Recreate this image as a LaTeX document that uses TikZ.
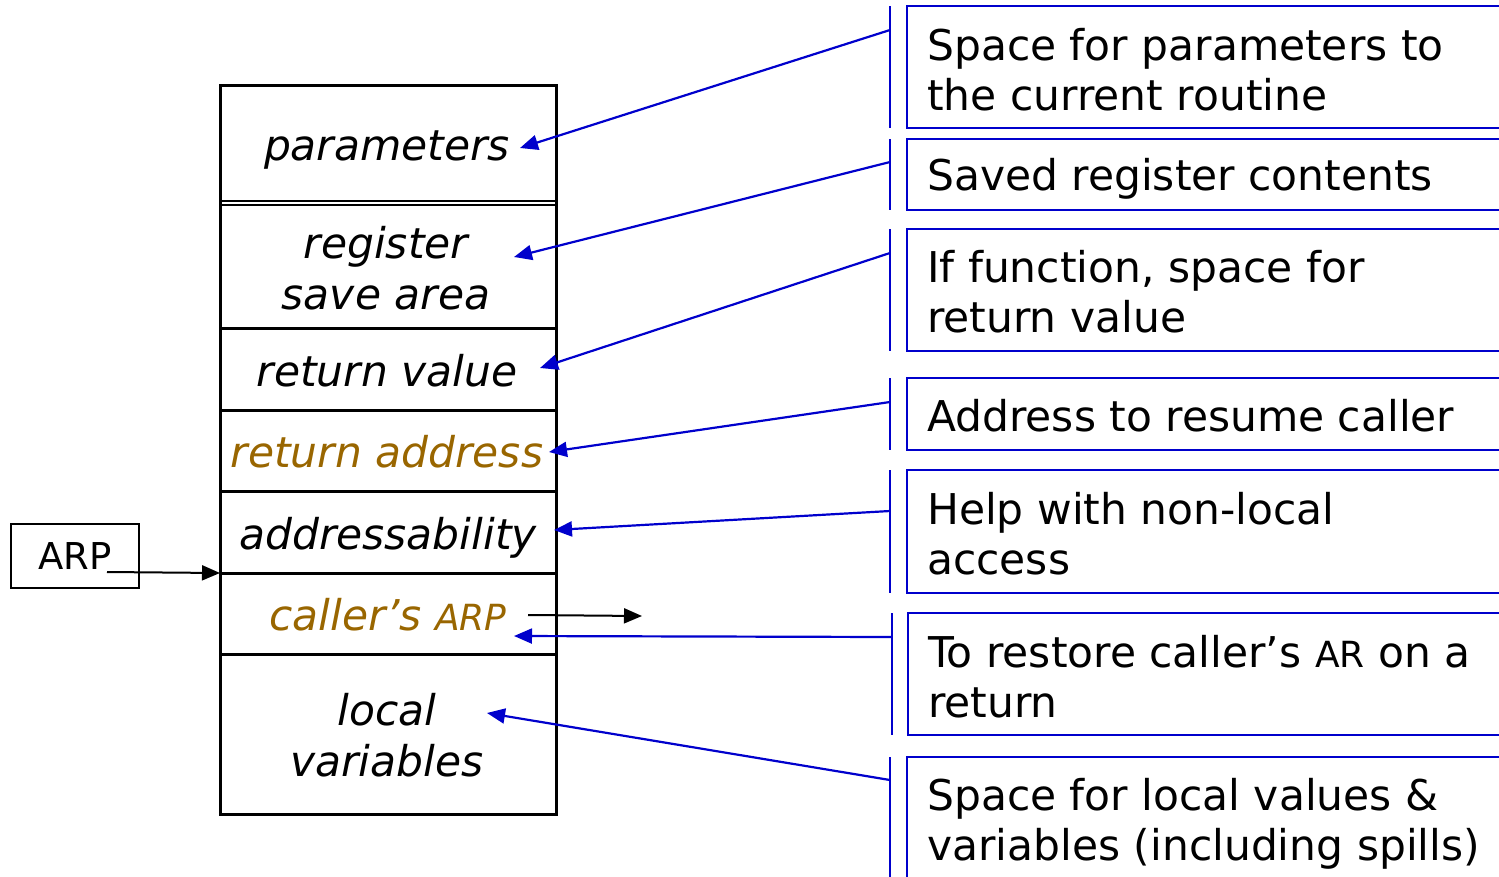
\documentclass[tikz,border=0pt]{standalone}
\usepackage{fontspec}
\setmainfont{DejaVu Sans}
\usetikzlibrary{arrows.meta}
\definecolor{lineblue}{RGB}{0,0,204}
\definecolor{ochre}{RGB}{153,102,0}
\newcommand{\smallAR}[1]{{\fontsize{36}{36}\selectfont #1}}
\begin{document}
\begin{tikzpicture}[x=1pt,y=-1pt,
  slot/.style={font=\fontsize{42.4}{51}\selectfont\itshape, inner sep=0, align=center, anchor=base},
  note/.style={font=\fontsize{42.4}{50}\selectfont, inner sep=0, align=left, anchor=base west},
  frame/.style={draw=lineblue, line width=2.8pt},
  bar/.style={draw=lineblue, line width=2.8pt},
  ptr/.style={draw=lineblue, line width=2.2pt, -{Triangle[length=18pt,width=15pt]}},
  blk/.style={draw=black, line width=2pt, -{Triangle[length=18pt,width=15pt]}},
  cell/.style={draw=black, line width=3pt}]
\useasboundingbox (0,0) rectangle (1499,876);
\clip (0,0) rectangle (1499,876);

% activation record stack
\draw[cell] (220,85) rectangle (556,814);
\draw[black, line width=1.8pt] (220,201) -- (556,201) (220,205) -- (556,205);
\foreach \yy in {328,410,491,573,654}
  \draw[cell] (220,\yy) -- (556,\yy);

% (multi-line nodes are placed by the baseline of their last line)
\node[slot] (par) at (387,160) {parameters};
\node[slot] (reg) at (386,309) {register\\save area};
\node[slot] (ret) at (387,386) {return value};
\node[slot, text=ochre] (radr) at (387,467) {return address};
\node[slot] (addr) at (388,549) {addressability};
\node[slot, text=ochre] (carp) at (388,630) {caller’s \smallAR{ARP}};
\node[slot] (loc) at (387,776) {local\\variables};

% ARP register
\node[draw=black, line width=2pt, minimum width=128pt, minimum height=64pt, inner sep=0,
      font=\fontsize{37}{37}\selectfont] (arp) at (75,556) {ARP};
\coordinate (arpout) at (107,572);
\coordinate (arpin) at (220,573);
\draw[blk] (arpout) -- (arpin);
\coordinate (carpout) at (528,615);
\coordinate (carpend) at (642,616);
\draw[blk] (carpout) -- (carpend);

% descriptions
\foreach \bx/\ta/\tb in {890/6/128, 890/139/210, 890/229/351, 890/378/450, 890/470/593, 892/613/735, 890/757/890}
  \draw[bar] (\bx,\ta) -- (\bx,\tb);
\foreach \bx/\ta/\tb in {907/6/128, 907/139/210, 907/229/351, 907/378/450, 907/470/593, 908/613/735, 907/757/890}
  \draw[frame] (1520,\ta) -- (\bx,\ta) -- (\bx,\tb) -- (1520,\tb);

\node[note] (d1) at (927,110) {Space for parameters to\\the current routine};
\node[note] (d2) at (927,190) {Saved register contents};
\node[note] (d3) at (927,332) {If function, space for\\return value};
\node[note] (d4) at (927,431) {Address to resume caller};
\node[note] (d5) at (927,574) {Help with non-local\\access};
\node[note] (d6) at (928,717) {To restore caller’s \smallAR{AR} on a\\return};
\node[note] (d7) at (927,860) {Space for local values \&\\variables (including spills)};

% pointers from descriptions to slots
\coordinate (s1) at (890,30);   \coordinate (e1) at (520,148);
\coordinate (s2) at (890,162);  \coordinate (e2) at (514,257);
\coordinate (s3) at (890,253);  \coordinate (e3) at (540,368);
\coordinate (s4) at (890,402);  \coordinate (e4) at (549,452);
\coordinate (s5) at (890,511);  \coordinate (e5) at (554,530);
\coordinate (s6) at (892,637);  \coordinate (e6) at (514,636);
\coordinate (s7) at (890,780);  \coordinate (e7) at (487,713);
\foreach \i in {1,...,7}
  \draw[ptr] (s\i) -- (e\i);
\end{tikzpicture}
\end{document}
